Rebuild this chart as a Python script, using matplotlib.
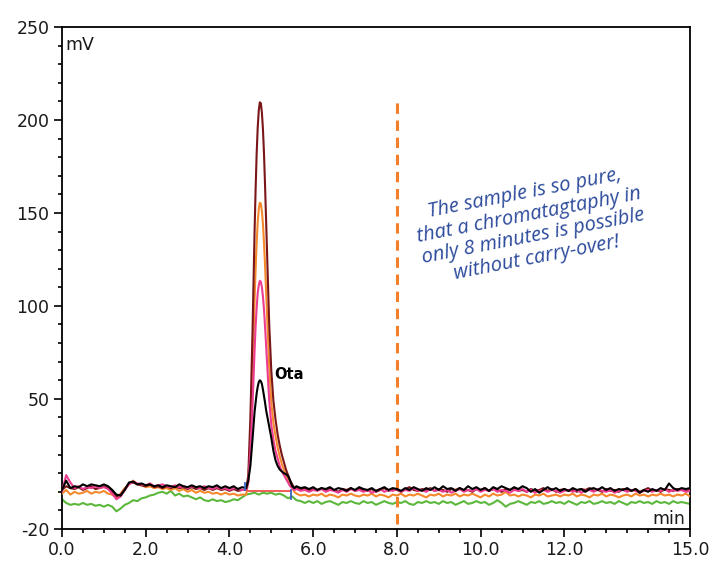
import numpy as np
import matplotlib
matplotlib.use("Agg")
import matplotlib.pyplot as plt
from matplotlib.ticker import FixedLocator, MultipleLocator

# --- chromatogram data (mV), read from the reference trace by trace ---
# baseline before the peak: 0.0 .. 4.3 min, 0.1 min steps
black_early = [1, 6, 2, 3, 2.5, 4, 3, 4, 3.5, 3,
               4, 3, 1, -1.5, -2, 1, 5, 5.5, 4, 4.5,
               3.5, 4, 3, 3.5, 2.5, 3.5, 3, 2.5, 4, 3,
               2.5, 3.5, 2.5, 3, 2, 3, 2.5, 3.5, 2, 3,
               2, 3, 1.5, 2.5]
pink_early = [0, 9, 5, 2, 3, 1.5, 2.5, 2, 3, 2,
              2.5, 1.5, -1, -4, -2.5, 1, 4, 5.5, 4.5, 4,
              3.5, 4.5, 3, 3.5, 4, 3, 2.5, 3.5, 2.5, 3,
              2, 3, 2.5, 2, 3, 2, 1.5, 2.5, 1.5, 2,
              1, 2, 1.5, 1]
orange_early = [-1, 1, -1.5, 0, -1, -0.5, 0.5, -1, 0, -0.5,
                0.5, -1, -1.5, -3, -1, 2, 4, 6, 4, 3.5,
                2.5, 3, 2, 2.5, 1.5, 2, 1, 2, 0.5, 1.5,
                0, 1, -0.5, 0.5, -0.5, 0, -1, -0.5, -1.5, -0.5,
                -1.5, -1, -2, -1.5]
darkred_early = [1, 3, 2, 1.5, 2.5, 1, 2, 3, 1.5, 2,
                 3, 2, 0, -2.5, -1.5, 1.5, 4.5, 5, 4, 3.5,
                 3, 4, 2.5, 3, 2, 3, 2, 3, 2, 2.5,
                 1.5, 2.5, 1.5, 2, 1, 2, 1, 2, 1, 1.5,
                 0.5, 1.5, 0.5, 1]

# peak window (finer steps around the apex)
peak_t = [4.40, 4.45, 4.50, 4.55, 4.60, 4.625, 4.65, 4.675, 4.70, 4.725,
          4.75, 4.775, 4.80, 4.825, 4.85, 4.875, 4.90, 4.95, 5.00, 5.05,
          5.10, 5.15, 5.20, 5.25, 5.30, 5.35, 5.40, 5.45, 5.50, 5.55]
black_peak = [2, 6, 14, 28, 43, 48, 53, 56.5, 59, 60,
              59.5, 58, 55, 51.5, 48, 44, 41, 35, 29, 22,
              17, 14, 12, 11, 10, 9.5, 8.5, 6, 3, 2]
pink_peak = [1, 5, 22, 46, 76, 89, 99, 107, 111, 113.5,
             113, 110, 105, 98, 89, 79, 68, 49, 36, 28,
             22, 18, 14, 11, 9, 7, 5, 3, 2, 1]
orange_peak = [-1.5, 6, 29, 62, 103, 120, 134, 145, 152, 155.5,
               155, 151, 144, 134, 122, 108, 93, 67, 48, 37,
               30, 24, 19, 15, 12, 9, 6, 4, 2, 0]
darkred_peak = [1, 9, 40, 85, 140, 163, 182, 196, 205, 209.5,
                209, 204, 195, 182, 165, 146, 126, 90, 65, 49,
                39, 31, 25, 20, 16, 12, 9, 6, 4, 2]

# baseline after the peak: 5.6 .. 15.0 min, 0.1 min steps
black_late = [3, 2, 2.5, 1.5, 2.5, 1, 2, 1.5, 2.5, 1,
              2, 1.5, 0.5, 2, 1, 2.5, 1.5, 1, 2, 0.5,
              1.5, 2.5, 1, 2, 1.5, 0.5, 2, 1, 2.5, 1.5,
              0.5, 2, 1, 2.5, 1, 3, 1.5, 2, 0.5, 2,
              1, 3, 1.5, 2.5, 1, 2, 0.5, 2.5, 1.5, 3,
              2, 1, 2.5, 1.5, 3, 2, 0, 1.5, -0.5, 1,
              2.5, 1, 2, 0.5, 1.5, 0.5, 2, 1, 1.5, 0,
              1.5, 2, 1, 2.5, 1, 2, 0.5, 1.5, 1, 2,
              0.5, 1.5, -0.5, 1, 0, 1.5, 0.5, 2, 1, 4.5,
              2, 1, 2, 1.5, 2]
pink_late = [1.5, 0.5, 1, 0, 1, 0.5, 1.5, 0, 1, 0.5,
             -0.5, 1, 0, 1.5, 0.5, 1, 0, 1, -0.5, 0.5,
             1.5, 0, 1, 0.5, 1.5, 0, 1, 0.5, 2, 0.5,
             1, 0, 1.5, 0.5, 1, 0, 1, -0.5, 0.5, 1.5,
             0, 1, 0.5, 1.5, 0, 1, 0.5, 1.5, 0, 1,
             0.5, -0.5, 1, 0.5, 1.5, 0, 1, -0.5, 0.5, 1,
             0, 1, 0.5, -0.5, 0.5, 1, 0, 1, -0.5, 0.5,
             1, 0, 1.5, 0.5, 0, 1, -0.5, 0.5, 1, 0,
             1, 0.5, -0.5, 0.5, 1, 0, 1, 0.5, 1.5, 0,
             1, 0.5, 1, 0, 0.5]
orange_late = [-1, -2, -1.5, -2.5, -1.5, -2, -1, -2.5, -1.5, -2,
               -3, -1.5, -2, -1, -2, -2.5, -1.5, -2, -1, -2.5,
               -1.5, -2, -3, -1.5, -2, -1, -2.5, -1.5, -2, -1,
               -2, -3, -1.5, -2, -1, -2.5, -1.5, -2, -1, -2.5,
               -1.5, -2, -1, -2, -3, -1.5, -2.5, -1, -2, -1.5,
               0, -2, -1.5, -2.5, -1.5, -2, -3, -1.5, -2, -1,
               -2.5, -2, -1.5, -2.5, -1.5, -2, -1, -2.5, -1.5, -2,
               -3, -1.5, -2, -1, -2.5, -1.5, -2, -3, -2, -1.5,
               -2.5, -1, -2, -1.5, -2.5, -1.5, -2, -1, -2, -1.5,
               -2.5, -1.5, -2, -1, -2.5]
darkred_late = [2, 1, 2, 0.5, 1.5, 1, 2, 0.5, 1.5, 1,
                0, 1.5, 1, 2, 0.5, 1.5, 1, 0.5, 1.5, 0,
                1, 2, 0.5, 1.5, 1, 0, 1.5, 2.5, 1, 0.5,
                1.5, 1, 2, 0.5, 1.5, 1, 0, 1.5, 1, 2,
                0.5, 1, 0, 1.5, 1, 2, 0.5, 1.5, 1, 0,
                1.5, 1, 2, 0.5, 1, 0, 1.5, 0.5, 1, 2,
                0.5, 1.5, 0, 1, 1.5, 0.5, 1, 0, 1.5, 1,
                2, 0.5, 1, 0, 1.5, 0.5, 1, 0, 1.5, 1,
                0.5, 1.5, 0, 1, 2, 0.5, 1, 0, 1.5, 1,
                0.5, 1.5, 1, 0.5, 1]

# blank run (no peak): 0.0 .. 15.0 min, 0.1 min steps
green_all = [-4, -6, -7, -6.5, -7, -6, -7, -6.5, -7.5, -7,
             -8, -7, -8, -10.5, -9, -7, -6, -4.5, -5, -3.5,
             -3, -2, -1.5, -0.5, 0, -1, 0.5, -2, -1, -2.5,
             -2, -3, -4, -3, -4.5, -5, -4, -5, -4.5, -5.5,
             -5, -4, -4.5, -3, -1.5, -1, -0.5, -1.5, -0.5, -1,
             -0.5, -1.5, -1, -2, -3.5, -2.5, -4.5, -5, -6, -5,
             -6, -5, -6.5, -5.5, -5, -6, -7, -5.5, -6, -5,
             -6, -6.5, -5, -6, -5.5, -7, -6, -5, -6, -6.5,
             -5.5, -6, -5, -6.5, -7, -5.5, -6, -5, -6, -5.5,
             -6.5, -5, -6, -5.5, -7, -6, -5, -6.5, -6, -5,
             -6, -5.5, -7, -6, -4.5, -6, -8, -6.5, -6, -5,
             -6, -7, -5.5, -6, -5, -6.5, -6, -5, -6, -5.5,
             -6.5, -5, -6, -7, -5.5, -6, -5, -6.5, -6, -5,
             -6, -5.5, -6.5, -5, -6, -7, -5.5, -6, -5, -6,
             -5.5, -6.5, -5, -6, -5.5, -6.5, -5, -6, -5.5, -6,
             -6.5]

# integration marks of the Ota peak
int_base_t = [4.41, 5.47]
int_base_y = [0.5, 0.5]
int_start = (4.37, 1.0, 5.0)   # t, y from, y to
int_end = (5.47, -4.0, 1.0)

cutoff_t = 8.0
cutoff_y = (-17.5, 211)

x_ticks = [0, 2, 4, 6, 8, 10, 12, 15]
x_labels = ["0.0", "2.0", "4.0", "6.0", "8.0", "10.0", "12.0", "15.0"]
y_ticks = [-20, 50, 100, 150, 200, 250]
y_labels = ["-20", "50", "100", "150", "200", "250"]

note = ("The sample is so pure,\nthat a chromatagtaphy in\n"
        "only 8 minutes is possible\nwithout carry-over!")


def build_trace(early, peak, late):
    t = np.concatenate([np.linspace(0.0, 4.3, len(early)),
                        peak_t,
                        np.linspace(5.6, 15.0, len(late))])
    return t, np.concatenate([early, peak, late])


fig = plt.figure(figsize=(7.15, 5.63), dpi=100)
ax = fig.add_axes([0.0867, 0.0604, 0.8783, 0.8916])

t_green = np.linspace(0.0, 15.0, len(green_all))
ax.plot(t_green, green_all, color="#5cb83c", lw=1.5, zorder=2)

traces = [
    (orange_early, orange_peak, orange_late, "#f5892c"),
    (darkred_early, darkred_peak, darkred_late, "#7a1518"),
    (pink_early, pink_peak, pink_late, "#ec3d92"),
    (black_early, black_peak, black_late, "#000000"),
]
for early, peak, late, col in traces:
    t, y = build_trace(early, peak, late)
    ax.plot(t, y, color=col, lw=1.5, zorder=3)

# integration baseline + start/end markers
ax.plot(int_base_t, int_base_y, color="#f0504a", lw=1.3, zorder=2.5)
ax.plot([int_start[0]] * 2, int_start[1:], color="#3a62c4", lw=1.3, zorder=4)
ax.plot([int_end[0]] * 2, int_end[1:], color="#3a62c4", lw=1.3, zorder=4)

# 8 min cut-off
ax.plot([cutoff_t] * 2, cutoff_y, color="#f47f2a", lw=2.2,
        linestyle=(0, (3.4, 2.2)), zorder=2)

ax.text(5.08, 63, "Ota", fontsize=10.5, fontweight="bold",
        family="DejaVu Sans", ha="left", va="center")

ax.text(11.2, 143, note, color="#2d4b9c", fontsize=14.5, style="italic",
        family=["Open Sans", "DejaVu Sans"], ha="center", va="center",
        multialignment="center", rotation=11, rotation_mode="anchor",
        linespacing=1.12)

ax.text(0.006, 0.964, "mV", transform=ax.transAxes, fontsize=12.5,
        color="#1a1a1a", ha="left", va="center")
ax.text(0.992, 0.02, "min", transform=ax.transAxes, fontsize=12.5,
        color="#1a1a1a", ha="right", va="center")

ax.set_xlim(0, 15)
ax.set_ylim(-20, 250)
ax.xaxis.set_major_locator(FixedLocator(x_ticks))
ax.set_xticklabels(x_labels)
ax.xaxis.set_minor_locator(MultipleLocator(0.5))
ax.yaxis.set_major_locator(FixedLocator(y_ticks))
ax.set_yticklabels(y_labels)
ax.yaxis.set_minor_locator(MultipleLocator(10))

ax.tick_params(which="major", direction="out", length=6, width=1.2,
               labelsize=12.5, labelcolor="#1a1a1a", pad=3)
ax.tick_params(which="minor", direction="out", length=3, width=1.2)
for s in ax.spines.values():
    s.set_linewidth(1.3)

plt.savefig("out.png", dpi=100)
plt.close()
